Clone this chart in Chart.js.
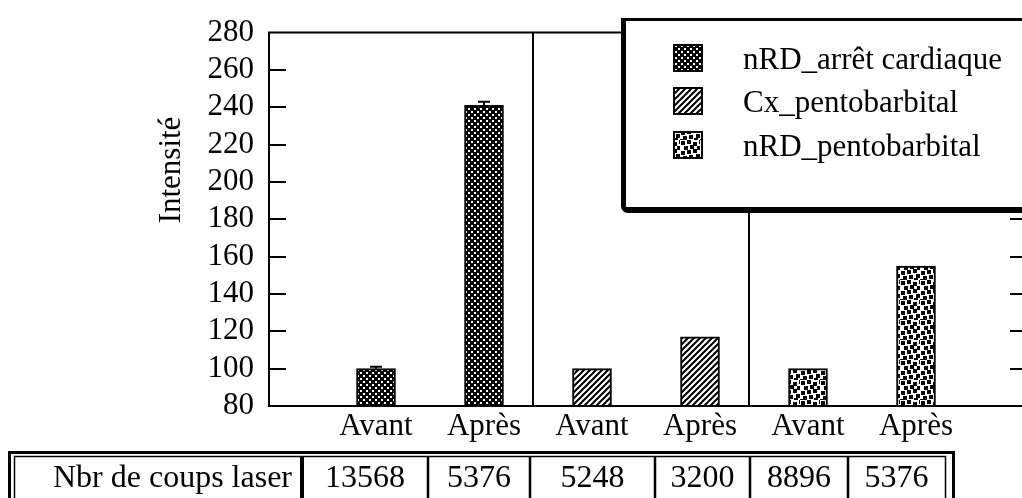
<!DOCTYPE html>
<html><head><meta charset="utf-8">
<script src="https://cdn.jsdelivr.net/npm/chart.js@4"></script>
<style>
html,body{margin:0;padding:0;background:#fff;overflow:hidden;}
#wrap{width:1022px;height:498px;overflow:hidden;position:relative;}
#c{position:absolute;left:0;top:0;}
</style></head><body>
<div id="wrap"><canvas id="c" width="1032" height="498"></canvas></div>
<script>
// ---- data ----
const categories = ['Avant', 'Après', 'Avant', 'Après', 'Avant', 'Après'];
const seriesNames = ['nRD_arrêt cardiaque', 'Cx_pentobarbital', 'nRD_pentobarbital'];
const nrdArretValues = [100, 241];
const cxPentoValues = [100, 117];
const nrdPentoValues = [100, 155];
const nrdArretErrors = [1, 2];
const cxPentoErrors = [0, 0];
const nrdPentoErrors = [0, 0];
const yTickMin = 80, yTickMax = 280, yTickStep = 20;
const tableLabel = 'Nbr de coups laser';
const coupsLaser = [13568, 5376, 5248, 3200, 8896, 5376];
const groupSeparators = [2.45, 4.45];
const yTitle = 'Intensité';

const SERIF = '"Liberation Serif", "DejaVu Serif", serif';

// ---- patterns ----
function makeTile(w, h, draw) {
  const c = document.createElement('canvas'); c.width = w; c.height = h;
  const g = c.getContext('2d'); draw(g, w, h); return c;
}
const tileStipple = makeTile(6, 6, (g) => {
  g.fillStyle = '#000'; g.fillRect(0, 0, 6, 6);
  g.fillStyle = '#fff'; g.fillRect(0, 0, 2, 2); g.fillRect(3, 3, 2, 2);
});
const tileHatch = makeTile(6, 6, (g) => {
  g.fillStyle = '#fff'; g.fillRect(0, 0, 6, 6);
  g.strokeStyle = '#000'; g.lineWidth = 2;
  g.beginPath();
  g.moveTo(0, 6); g.lineTo(6, 0);
  g.moveTo(-1, 1); g.lineTo(1, -1);
  g.moveTo(5, 7); g.lineTo(7, 5);
  g.stroke();
});
const tileDots = makeTile(20, 20, (g) => {
  g.fillStyle = '#fff'; g.fillRect(0, 0, 20, 20);
  g.fillStyle = '#000';
  [[1,1],[7,0],[13,2],[17,6],[4,6],[10,5],[1,11],[7,10],[13,9],[16,14],[3,16],[9,15],[14,18],[19,0],[0,19]]
    .forEach(([x, y]) => g.fillRect(x, y, 4, 4));
});
const ctxMain = document.getElementById('c').getContext('2d');
const patterns = [
  ctxMain.createPattern(tileStipple, 'repeat'),
  ctxMain.createPattern(tileHatch, 'repeat'),
  ctxMain.createPattern(tileDots, 'repeat')
];

// ---- build chart data ----
const labels = [''].concat(categories, ['']);
const seriesValues = [nrdArretValues, cxPentoValues, nrdPentoValues];
const seriesErrors = [nrdArretErrors, cxPentoErrors, nrdPentoErrors];
const datasets = seriesValues.map((vals, i) => {
  const data = labels.map(() => null);
  vals.forEach((v, j) => { data[1 + 2 * i + j] = v; });
  const errs = labels.map(() => 0);
  seriesErrors[i].forEach((e, j) => { errs[1 + 2 * i + j] = e; });
  return {
    label: seriesNames[i], data, errors: errs,
    backgroundColor: patterns[i], borderColor: '#000', borderWidth: 2,
    barThickness: 39, grouped: false
  };
});

const decor = {
  id: 'decor',
  afterDatasetsDraw(chart) {
    const ctx = chart.ctx, ys = chart.scales.y;
    ctx.save(); ctx.strokeStyle = '#000'; ctx.lineWidth = 2;
    chart.data.datasets.forEach((ds, di) => {
      const meta = chart.getDatasetMeta(di);
      meta.data.forEach((el, k) => {
        const v = ds.data[k], e = ds.errors[k];
        if (v == null || !e) return;
        const yE = ys.getPixelForValue(v + e);
        ctx.beginPath();
        ctx.moveTo(el.x, el.y); ctx.lineTo(el.x, yE);
        ctx.moveTo(el.x - 6, yE); ctx.lineTo(el.x + 6, yE);
        ctx.stroke();
      });
    });
    ctx.restore();
  },
  afterDraw(chart) {
    const ctx = chart.ctx, a = chart.chartArea, xs = chart.scales.x, ys = chart.scales.y;
    ctx.save();
    ctx.strokeStyle = '#000'; ctx.fillStyle = '#000';
    // frame
    ctx.lineWidth = 2;
    ctx.beginPath();
    ctx.moveTo(a.left + 1, a.top); ctx.lineTo(a.left + 1, a.bottom);
    ctx.moveTo(a.left, a.bottom); ctx.lineTo(a.right, a.bottom);
    ctx.moveTo(a.left, a.top); ctx.lineTo(a.right, a.top);
    ctx.moveTo(a.right, a.top); ctx.lineTo(a.right, a.bottom);
    ctx.stroke();
    // inward ticks
    ctx.beginPath();
    for (let v = yTickMin + yTickStep; v < yTickMax; v += yTickStep) {
      const y = Math.round(ys.getPixelForValue(v));
      ctx.moveTo(a.left, y); ctx.lineTo(a.left + 18, y);
      ctx.moveTo(a.right, y); ctx.lineTo(a.right - 14, y);
    }
    ctx.stroke();
    // group separators
    ctx.beginPath();
    groupSeparators.forEach(s => {
      const x = Math.round(xs.getPixelForValue(s));
      ctx.moveTo(x, a.top); ctx.lineTo(x, a.bottom);
    });
    ctx.stroke();
    // y title
    ctx.save();
    ctx.translate(172, 170); ctx.rotate(-Math.PI / 2);
    ctx.font = '31px ' + SERIF; ctx.textAlign = 'center'; ctx.textBaseline = 'middle';
    ctx.fillText(yTitle, 0, 0);
    ctx.restore();
    // legend box with shadow
    ctx.fillStyle = '#000';
    ctx.beginPath();
    ctx.roundRect(621, 18, 440, 195, [0, 0, 0, 7]);
    ctx.fill();
    ctx.fillStyle = '#fff';
    ctx.fillRect(626, 21, 440, 186);
    const rows = [58, 101, 145];
    ctx.font = '31px ' + SERIF; ctx.textAlign = 'left'; ctx.textBaseline = 'alphabetic';
    seriesNames.forEach((n, i) => {
      const cy = rows[i];
      ctx.fillStyle = patterns[i];
      ctx.fillRect(674, cy - 13, 28, 26);
      ctx.lineWidth = 2; ctx.strokeStyle = '#000';
      ctx.strokeRect(674, cy - 13, 28, 26);
      ctx.fillStyle = '#000';
      ctx.fillText(n, 743, cy + 11);
    });
    // table
    ctx.strokeStyle = '#000';
    ctx.lineWidth = 3;
    ctx.strokeRect(9.5, 452.5, 944, 80);
    ctx.lineWidth = 1.5;
    ctx.strokeRect(14.5, 456.5, 931, 80);
    const cellEdges = [15, 302, 428, 530, 655, 750, 848, 945];
    ctx.beginPath();
    ctx.lineWidth = 4; ctx.moveTo(302, 456); ctx.lineTo(302, 498); ctx.stroke();
    ctx.beginPath(); ctx.lineWidth = 2.5;
    for (let i = 2; i < cellEdges.length - 1; i++) { ctx.moveTo(cellEdges[i], 456); ctx.lineTo(cellEdges[i], 498); }
    ctx.stroke();
    ctx.fillStyle = '#000';
    ctx.font = '32px ' + SERIF; ctx.textBaseline = 'alphabetic';
    ctx.textAlign = 'right';
    ctx.fillText(tableLabel, 292, 487);
    ctx.textAlign = 'center';
    coupsLaser.forEach((n, i) => {
      ctx.fillText(String(n), (cellEdges[i + 1] + cellEdges[i + 2]) / 2, 487);
    });
    ctx.restore();
  }
};

new Chart(document.getElementById('c'), {
  type: 'bar',
  data: { labels, datasets },
  plugins: [decor],
  options: {
    responsive: false, animation: false, devicePixelRatio: 1,
    layout: { padding: { left: 0, top: 32, right: 8, bottom: 42 } },
    plugins: { legend: { display: false }, tooltip: { enabled: false } },
    scales: {
      x: {
        offset: false,
        grid: { display: false, drawTicks: false }, border: { display: false },
        ticks: { color: '#000', font: { family: SERIF, size: 31 }, padding: 2, maxRotation: 0, autoSkip: false },
        afterFit: s => { s.height = 50; }
      },
      y: {
        min: yTickMin, max: yTickMax,
        grid: { display: false, drawTicks: false }, border: { display: false },
        ticks: { stepSize: yTickStep, color: '#000', font: { family: SERIF, size: 31 }, padding: 14, autoSkip: false },
        afterFit: s => { s.width = 268; }
      }
    }
  }
});
</script>
</body></html>
